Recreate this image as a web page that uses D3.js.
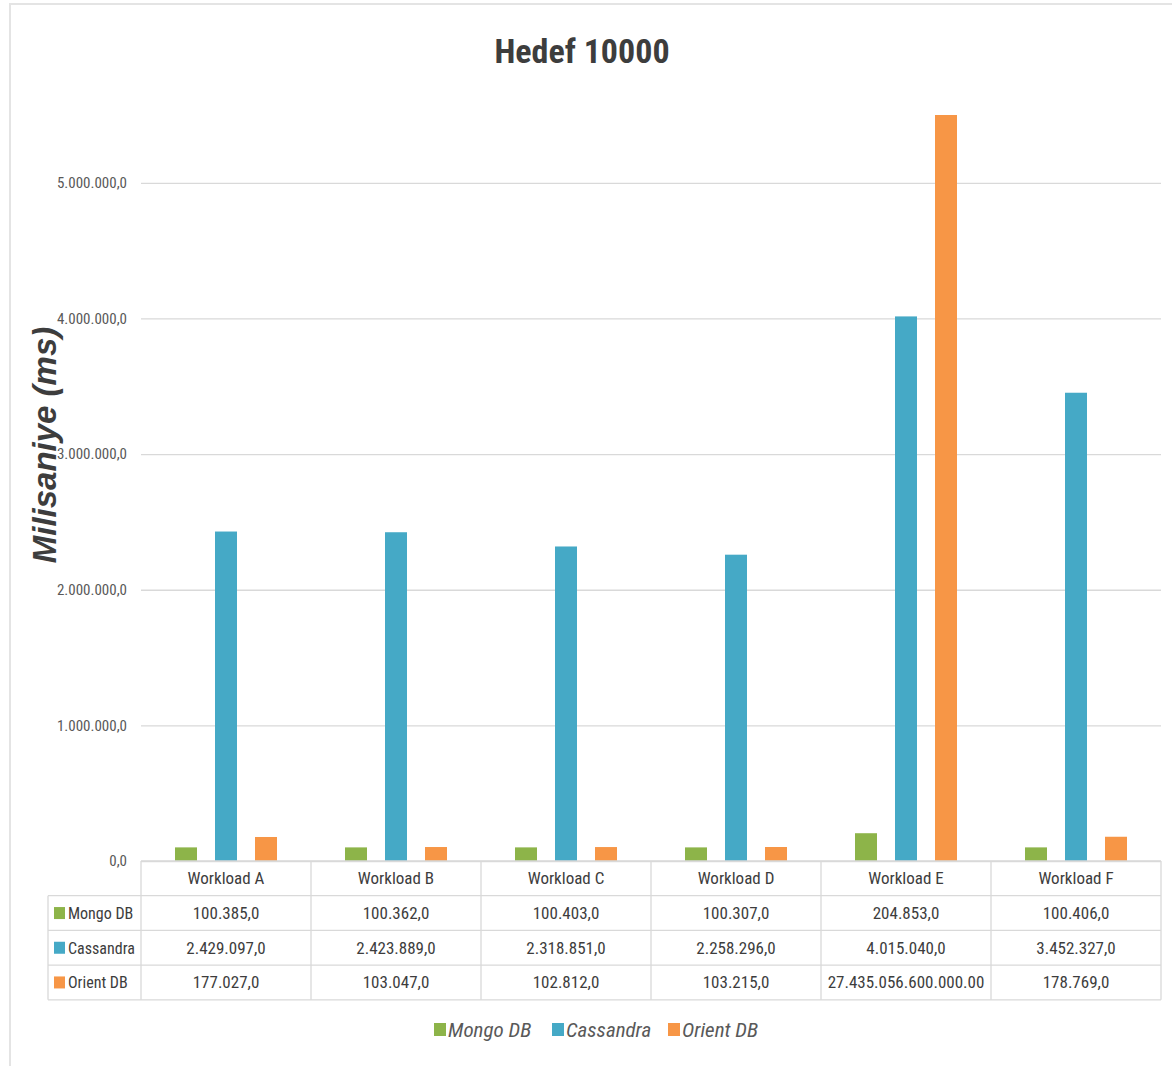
<!DOCTYPE html>
<html>
<head>
<meta charset="utf-8">
<script src="https://cdn.jsdelivr.net/npm/d3@7"></script>
<style>
  body { margin: 0; background: #fff; }
  svg { display: block; }
</style>
</head>
<body>
<svg id="chart" width="1172" height="1066"></svg>
<script>
// Chart data
const categories = ['Workload A', 'Workload B', 'Workload C', 'Workload D', 'Workload E', 'Workload F'];
const seriesNames = ['Mongo DB', 'Cassandra', 'Orient DB'];
const mongoValues = [100385, 100362, 100403, 100307, 204853, 100406];
const cassandraValues = [2429097, 2423889, 2318851, 2258296, 4015040, 3452327];
const orientValues = [177027, 103047, 102812, 103215, 27435056600000, 178769];
// Table text as printed in the chart (Workload E / Orient DB is shown with dots)
const orientLabels = ['177.027,0', '103.047,0', '102.812,0', '103.215,0', '27.435.056.600.000.00', '178.769,0'];
const yTicks = [0, 1000000, 2000000, 3000000, 4000000, 5000000];
const yMax = 5500000;
const colors = ['#8db449', '#45a9c6', '#f79646'];

const seriesValues = [mongoValues, cassandraValues, orientValues];
const FONT = '"Liberation Sans Narrow", "Roboto Condensed", "Open Sans", sans-serif';
const TEXT = '#3d3d3d';

// Turkish number format: 2.429.097,0
const trFormat = d3.formatLocale({ decimal: ',', thousands: '.', grouping: [3], currency: ['', ''] }).format(',.1f');

const svg = d3.select('#chart');

// Layout
const plotLeft = 141, plotRight = 1161, plotTop = 115, plotBottom = 861;
const labelColLeft = 48;
const rowH = 34.7;

// Outer frame (only left and top edges visible)
svg.append('rect')
  .attr('x', 10).attr('y', 4).attr('width', 1300).attr('height', 1200)
  .attr('fill', 'none').attr('stroke', '#e4e4e4').attr('stroke-width', 2);

// Scales
const x0 = d3.scaleBand().domain(categories).range([plotLeft, plotRight]).padding(0);
const x1 = d3.scaleBand().domain(seriesNames)
  .range([x0.bandwidth() * 0.2, x0.bandwidth() * 0.8])
  .paddingInner(0.45).paddingOuter(0);
const y = d3.scaleLinear().domain([0, yMax]).range([plotBottom, plotTop]).clamp(true);

// Title
svg.append('text')
  .attr('x', 582).attr('y', 63)
  .attr('text-anchor', 'middle')
  .attr('font-family', FONT).attr('font-weight', 'bold').attr('font-size', 34)
  .attr('fill', TEXT)
  .text('Hedef 10000');

// Gridlines and y tick labels
const yAxis = d3.axisLeft(y).tickValues(yTicks).tickFormat(trFormat)
  .tickSize(-(plotRight - plotLeft)).tickPadding(14);
const gy = svg.append('g').attr('transform', `translate(${plotLeft},0)`).call(yAxis);
gy.select('.domain').remove();
gy.selectAll('.tick line').attr('stroke', '#d9d9d9').attr('stroke-width', 1.3);
gy.selectAll('.tick text')
  .attr('font-family', FONT).attr('font-size', 15).attr('fill', '#595959');

// Y axis title
svg.append('text')
  .attr('transform', 'translate(56,445) rotate(-90)')
  .attr('text-anchor', 'middle')
  .attr('font-family', '"Liberation Sans", Arial, sans-serif')
  .attr('font-weight', 'bold').attr('font-style', 'italic').attr('font-size', 33)
  .attr('fill', TEXT)
  .text('Milisaniye (ms)');

// Bars
const groups = svg.append('g').selectAll('g')
  .data(categories)
  .join('g')
  .attr('transform', d => `translate(${x0(d)},0)`);

groups.selectAll('rect')
  .data((c, i) => seriesNames.map((s, k) => ({ series: s, k, value: seriesValues[k][i] })))
  .join('rect')
  .attr('x', d => x1(d.series))
  .attr('width', x1.bandwidth())
  .attr('y', d => y(d.value))
  .attr('height', d => plotBottom - y(d.value))
  .attr('fill', d => colors[d.k]);

// Data table
const table = svg.append('g');
const lineColor = '#d9d9d9';
const tableBottom = plotBottom + rowH * 4;

// horizontal lines
[0, 1, 2, 3, 4].forEach(r => {
  const yy = plotBottom + r * rowH;
  table.append('line')
    .attr('x1', r === 0 ? plotLeft : labelColLeft).attr('x2', plotRight)
    .attr('y1', yy).attr('y2', yy)
    .attr('stroke', lineColor).attr('stroke-width', 1.3);
});
// vertical lines
table.append('line')
  .attr('x1', labelColLeft).attr('x2', labelColLeft)
  .attr('y1', plotBottom + rowH).attr('y2', tableBottom)
  .attr('stroke', lineColor).attr('stroke-width', 1.3);
categories.concat(['end']).forEach((c, i) => {
  const xx = plotLeft + i * x0.bandwidth();
  table.append('line')
    .attr('x1', xx).attr('x2', xx)
    .attr('y1', plotBottom).attr('y2', tableBottom)
    .attr('stroke', lineColor).attr('stroke-width', 1.3);
});

// header row
table.selectAll('text.head')
  .data(categories)
  .join('text')
  .attr('class', 'head')
  .attr('x', d => x0(d) + x0.bandwidth() / 2)
  .attr('y', plotBottom + rowH / 2 + 6)
  .attr('text-anchor', 'middle')
  .attr('font-family', FONT).attr('font-size', 17).attr('fill', TEXT)
  .text(d => d);

// series rows
seriesNames.forEach((s, k) => {
  const rowY = plotBottom + rowH * (k + 1);
  table.append('rect')
    .attr('x', 54).attr('y', rowY + rowH / 2 - 6)
    .attr('width', 11).attr('height', 12)
    .attr('fill', colors[k]);
  table.append('text')
    .attr('x', 68).attr('y', rowY + rowH / 2 + 6)
    .attr('font-family', FONT).attr('font-size', 16).attr('fill', TEXT)
    .text(s);
  table.selectAll(null)
    .data(categories)
    .join('text')
    .attr('x', d => x0(d) + x0.bandwidth() / 2)
    .attr('y', rowY + rowH / 2 + 6)
    .attr('text-anchor', 'middle')
    .attr('font-family', FONT).attr('font-size', 17).attr('fill', TEXT)
    .text((d, i) => k === 2 ? orientLabels[i] : trFormat(seriesValues[k][i]));
});

// Legend
const legendX = [434, 552, 668];
const legend = svg.append('g').selectAll('g')
  .data(seriesNames)
  .join('g')
  .attr('transform', (d, i) => `translate(${legendX[i]},1030)`);
legend.append('rect')
  .attr('x', 0).attr('y', -7).attr('width', 12).attr('height', 13)
  .attr('fill', (d, i) => colors[i]);
legend.append('text')
  .attr('x', 14).attr('y', 7)
  .attr('font-family', FONT).attr('font-style', 'italic').attr('font-size', 21)
  .attr('fill', '#595959')
  .text(d => d);
</script>
</body>
</html>
